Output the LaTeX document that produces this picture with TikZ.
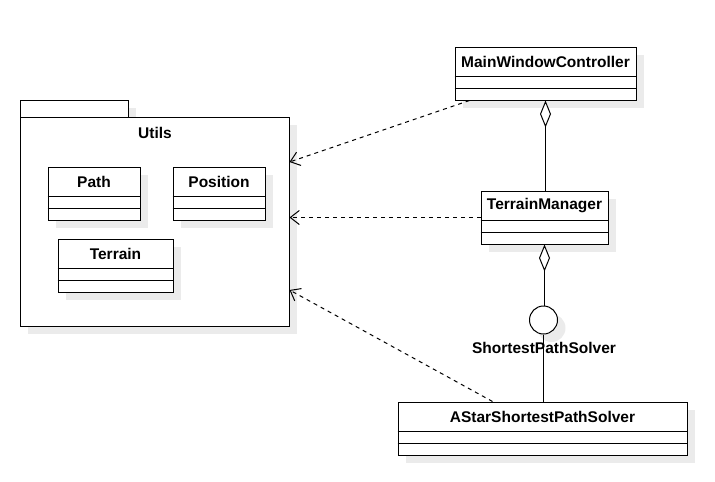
\documentclass[tikz,border=0pt]{standalone}
\usepackage{fontspec}
\setmainfont{Liberation Sans}
\usetikzlibrary{arrows.meta,shadows,calc}
\definecolor{shadowgray}{HTML}{EBEBEB}
% class box: name, left, top, right, title
\newcommand{\umlclass}[5]{%
\node[classbox,minimum width={(#4-#2)*1pt},minimum height=53pt] (#1) at ({(#2+#4)/2},{#3+26.5}) {};
\draw ($(#1.north west)+(0,30)$)--($(#1.north east)+(0,30)$);
\draw ($(#1.north west)+(0,42)$)--($(#1.north east)+(0,42)$);
\node[classname] at ($(#1.north)+(0,15)$) {#5};}
\begin{document}
\begin{tikzpicture}[x=1pt,y=-1pt,line width=1pt,
classbox/.style={draw,fill=white,inner sep=0pt,drop shadow={shadow xshift=8pt,shadow yshift=-8pt,fill=shadowgray,opacity=1}},
classname/.style={font=\bfseries\fontsize{15.5}{18}\selectfont,inner sep=0pt},
dep/.style={dash pattern=on 4pt off 4pt,-{Straight Barb[length=9pt,width=14pt]}},
agg/.style={{Diamond[open,fill=white,length=27pt,width=11pt]}-}]
\useasboundingbox (0,0) rectangle (715,482);
% package
\node[classbox,minimum width=108pt,minimum height=17pt] (utilstab) at (74,108.5) {};
\node[classbox,minimum width=269pt,minimum height=209pt] (utils) at (154.5,221.5) {};
\node[classname] at (155,133) {Utils};
\umlclass{path}{48}{167}{140}{Path}
\umlclass{position}{173}{167}{265}{Position}
\umlclass{terrain}{58}{239}{173}{Terrain}
% classes on the right
\umlclass{mwc}{455}{47}{636}{MainWindowController}
\umlclass{tm}{481}{191}{608}{TerrainManager}
\umlclass{astar}{398}{402}{687}{AStarShortestPathSolver}
\node[classbox,circle,minimum size=28pt] (sps) at (543.5,320) {};
\node[classname] (spslabel) at (544,348) {ShortestPathSolver};
% connectors
\draw[agg](mwc.south)--(mwc.south|-tm.north);
\draw[agg](tm.south)--(tm.south|-sps.north);
\draw(sps.south)--(sps.south|-astar.north);
\draw[dep]($(mwc.south west)+(15,0)$)--(utils.east|-0,162);
\draw[dep](tm.west)--(utils.east|-tm.west);
\draw[dep]($(astar.north west)+(95,0)$)--(utils.east|-0,290);
\end{tikzpicture}
\end{document}
